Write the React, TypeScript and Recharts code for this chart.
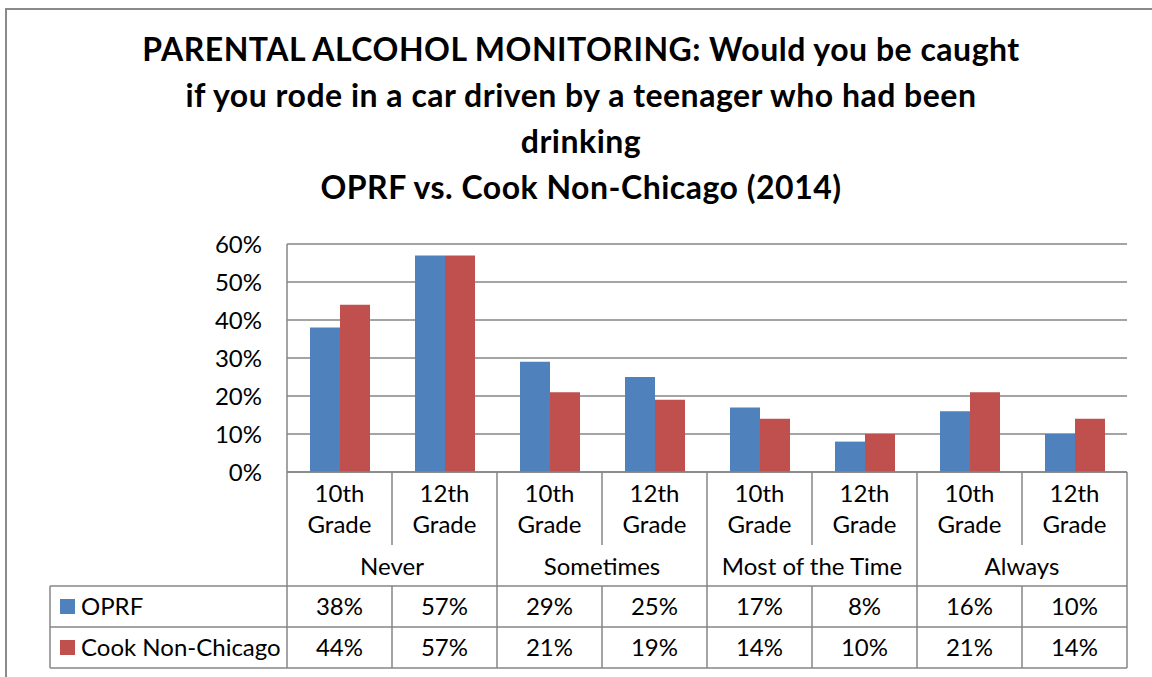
import { BarChart, Bar, XAxis, YAxis, CartesianGrid } from 'recharts';

const GROUPS = ['Never', 'Sometimes', 'Most of the Time', 'Always'];
const GRADES = ['10th Grade', '12th Grade'];
const OPRF = [38, 57, 29, 25, 17, 8, 16, 10];
const COOK = [44, 57, 21, 19, 14, 10, 21, 14];
const Y_TICKS = [0, 10, 20, 30, 40, 50, 60];
const TITLE_LINES = [
  'PARENTAL ALCOHOL MONITORING: Would you be caught',
  'if you rode in a car driven by a teenager who had been',
  'drinking',
  'OPRF vs. Cook Non-Chicago (2014)',
];

const BLUE = '#4F81BD';
const RED = '#C0504D';
const GRID = '#868686';
const FONT = 'Lato, "Open Sans", sans-serif';

const data = GROUPS.flatMap((group, gi) =>
  GRADES.map((grade, ri) => ({
    key: `${group}|${grade}`,
    group,
    grade,
    oprf: OPRF[gi * 2 + ri],
    cook: COOK[gi * 2 + ri],
  }))
);

const SERIES = [
  { name: 'OPRF', key: 'oprf' as const, color: BLUE },
  { name: 'Cook Non-Chicago', key: 'cook' as const, color: RED },
];

// table geometry below the axis (offsets from axis line)
const GRADE_ROW = 73;
const GROUP_ROW = 114;
const ROW_H = 41;
const TABLE_LEFT = 50;

function TableTick(props: any) {
  const { x, y, payload, index } = props;
  const half = payload?.offset || 52.5;
  const row = data[index];
  if (!row) return null;
  const left = x - half;
  const right = x + half;
  const groupStart = index % 2 === 0;
  const bottom = y + GROUP_ROW + ROW_H * 2;
  const [g1, g2] = row.grade.split(' ');
  const txt = { fontFamily: FONT, fontSize: 24, fill: '#000', textAnchor: 'middle' as const };
  return (
    <g>
      {groupStart ? (
        <line x1={left} x2={left} y1={y} y2={bottom} stroke={GRID} strokeWidth={1.5} />
      ) : (
        <>
          <line x1={left} x2={left} y1={y} y2={y + GRADE_ROW} stroke={GRID} strokeWidth={1.5} />
          <line x1={left} x2={left} y1={y + GROUP_ROW} y2={bottom} stroke={GRID} strokeWidth={1.5} />
        </>
      )}
      {index === data.length - 1 && (
        <line x1={right} x2={right} y1={y} y2={bottom} stroke={GRID} strokeWidth={1.5} />
      )}
      {[0, 1, 2].map((r) => (
        <line
          key={r}
          x1={left}
          x2={right}
          y1={y + GROUP_ROW + r * ROW_H}
          y2={y + GROUP_ROW + r * ROW_H}
          stroke={GRID}
          strokeWidth={1.5}
        />
      ))}
      <text {...txt} x={x} y={y + 21} dy="0.355em">{g1}</text>
      <text {...txt} x={x} y={y + 52} dy="0.355em">{g2}</text>
      {groupStart && (
        <text {...txt} x={right} y={y + 94} dy="0.355em">{row.group}</text>
      )}
      <text {...txt} x={x} y={y + GROUP_ROW + ROW_H / 2} dy="0.355em">{row.oprf}%</text>
      <text {...txt} x={x} y={y + GROUP_ROW + ROW_H * 1.5} dy="0.355em">{row.cook}%</text>
      {index === 0 && (
        <g>
          <line x1={TABLE_LEFT} x2={TABLE_LEFT} y1={y + GROUP_ROW} y2={bottom} stroke={GRID} strokeWidth={1.5} />
          {[0, 1, 2].map((r) => (
            <line
              key={r}
              x1={TABLE_LEFT}
              x2={left}
              y1={y + GROUP_ROW + r * ROW_H}
              y2={y + GROUP_ROW + r * ROW_H}
              stroke={GRID}
              strokeWidth={1.5}
            />
          ))}
          {SERIES.map((s, si) => (
            <g key={s.key}>
              <rect x={TABLE_LEFT + 10} y={y + GROUP_ROW + si * ROW_H + 13} width={15} height={15} fill={s.color} />
              <text
                fontFamily={FONT}
                fontSize={24}
                fill="#000"
                x={TABLE_LEFT + 31}
                y={y + GROUP_ROW + si * ROW_H + ROW_H / 2}
                dy="0.355em"
              >
                {s.name}
              </text>
            </g>
          ))}
        </g>
      )}
    </g>
  );
}

export default function App() {
  return (
    <div style={{ position: 'absolute', left: 0, top: 0, width: 1152, height: 677, overflow: 'hidden', background: '#fff' }}>
      <div style={{ position: 'absolute', left: 5, top: 8, width: 1200, height: 720, border: '2px solid #8a8a8a' }} />
      <div style={{ position: 'absolute', left: 0, top: 26, width: 1162, textAlign: 'center', fontFamily: FONT, fontWeight: 700, fontSize: 32, letterSpacing: 0.5, lineHeight: '46px', color: '#000' }}>
        {TITLE_LINES.map((t) => (
          <div key={t}>{t}</div>
        ))}
      </div>
      <div style={{ position: 'absolute', left: 0, top: 0 }}>
        <BarChart
          width={1152}
          height={677}
          data={data}
          margin={{ top: 244, right: 25, left: 227, bottom: 0 }}
          barGap={0}
          barSize={30}
        >
          <CartesianGrid vertical={false} stroke={GRID} strokeWidth={1.5} />
          <XAxis
            dataKey="key"
            height={205}
            interval={0}
            tickSize={0}
            tickMargin={0}
            tickLine={false}
            axisLine={{ stroke: GRID, strokeWidth: 1.5 }}
            tick={<TableTick />}
          />
          <YAxis
            width={60}
            domain={[0, 60]}
            ticks={Y_TICKS}
            tickFormatter={(v: number) => `${v}%`}
            tickSize={0}
            tickMargin={25}
            tickLine={false}
            axisLine={{ stroke: GRID, strokeWidth: 1.5 }}
            tick={{ fontFamily: FONT, fontSize: 24, fill: '#000' }}
          />
          {SERIES.map((s) => (
            <Bar key={s.key} dataKey={s.key} name={s.name} fill={s.color} isAnimationActive={false} />
          ))}
        </BarChart>
      </div>
    </div>
  );
}
